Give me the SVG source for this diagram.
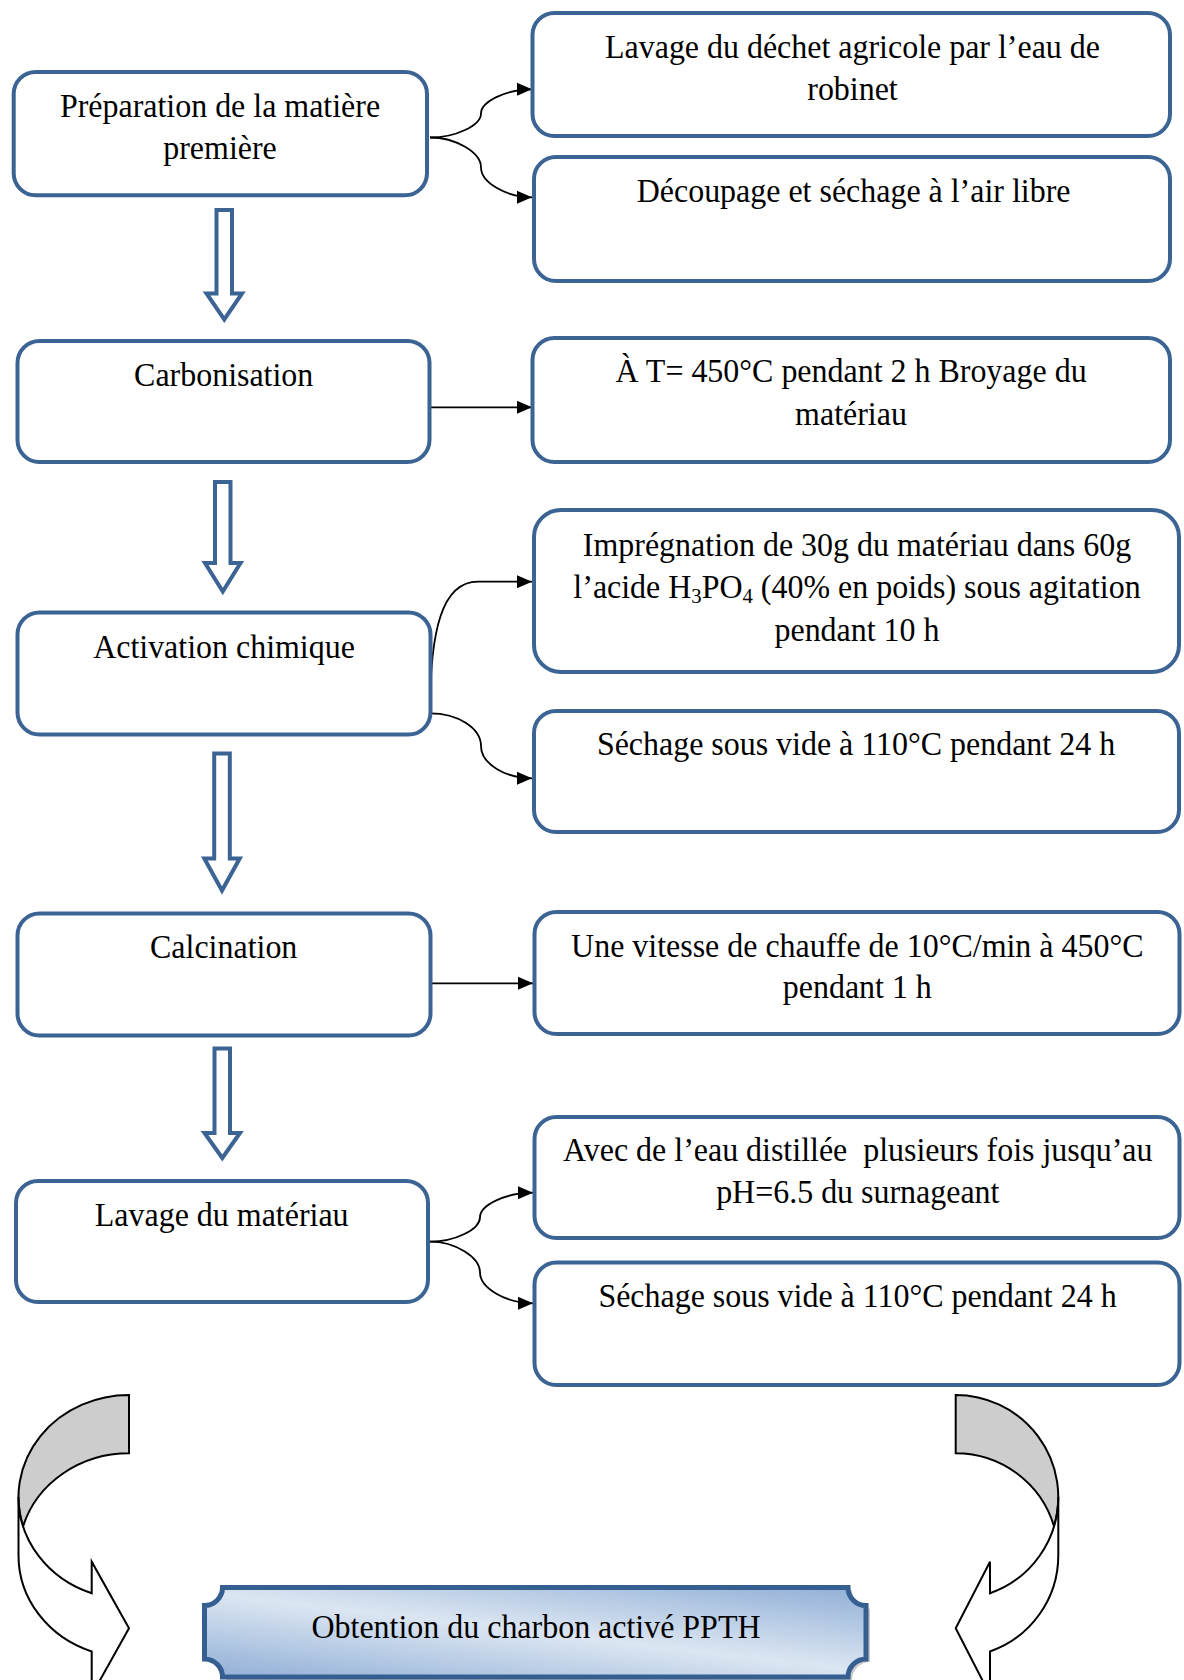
<svg xmlns="http://www.w3.org/2000/svg" width="1184" height="1680" viewBox="0 0 1184 1680">
<style>
.box{fill:#fff;stroke:#3B6494;stroke-width:4}
.conn{fill:none;stroke:#000;stroke-width:1.8}
.harrow{fill:#fff;stroke:#3B6494;stroke-width:4;stroke-linejoin:miter}
.t{font-family:"Liberation Serif","Times New Roman",serif;font-size:34px;text-anchor:middle;fill:#000}
.sub{font-size:22px}
.curv{stroke:#000;stroke-width:2;stroke-linejoin:miter}
</style>
<defs>
<marker id="ah" markerUnits="userSpaceOnUse" markerWidth="16" markerHeight="14" refX="15" refY="7" orient="auto" viewBox="0 0 16 14">
<path d="M0,0.5 L15,7 L0,13.5 Z" fill="#000"/>
</marker>
<linearGradient id="pg" gradientUnits="userSpaceOnUse" x1="523" y1="1716" x2="543" y2="1548">
<stop offset="0" stop-color="#8FAED6"/>
<stop offset="0.5" stop-color="#DCE6F2"/>
<stop offset="1" stop-color="#8FAED6"/>
</linearGradient>
</defs>
<rect width="1184" height="1680" fill="#fff"/>

<g id="connectors">
<path class="conn" marker-end="url(#ah)" d="M430 137.5 C455.5 137.5 481 125.4 481 113.4 C481 101.4 506.5 89.3 532 89.3"/>
<path class="conn" marker-end="url(#ah)" d="M430 137.5 C455.5 137.5 481 152.4 481 167.4 C481 182.4 506.5 197.3 532 197.3"/>
<path class="conn" marker-end="url(#ah)" d="M431 407.3 L532 407.3"/>
<path class="conn" marker-end="url(#ah)" d="M430 713.3 C430 630 442 581.7 478 581.7 L532 581.7"/>
<path class="conn" marker-end="url(#ah)" d="M430 713.3 C458 713.3 481 728 481 746 C481 764 506 778.3 532 778.3"/>
<path class="conn" marker-end="url(#ah)" d="M432 983.3 L533 983.3"/>
<path class="conn" marker-end="url(#ah)" d="M430 1241.7 C455 1241.7 480 1229.5 480 1217.2 C480 1205 506 1192.7 533 1192.7"/>
<path class="conn" marker-end="url(#ah)" d="M430 1241.7 C455 1241.7 480 1257 480 1272.5 C480 1288 506 1303.3 533 1303.3"/>
<path class="harrow" d="M216.5 210 L232 210 L232 293.5 L242 293.5 L224.3 319.5 L206.5 293.5 L216.5 293.5 Z"/>
<path class="harrow" d="M215 482 L230.5 482 L230.5 563 L240.5 563 L222.8 591.5 L205 563 L215 563 Z"/>
<path class="harrow" d="M214.2 753.5 L229.8 753.5 L229.8 858.5 L239.7 858.5 L222 890.5 L204.3 858.5 L214.2 858.5 Z"/>
<path class="harrow" d="M214.5 1048.5 L230 1048.5 L230 1133 L240 1133 L222.3 1158 L204.5 1133 L214.5 1133 Z"/>
</g>

<g id="n-preparation">
<rect class="box" x="13.7" y="72" width="413.3" height="123.3" rx="22"/>
<text class="t" transform="translate(220 117.3) scale(0.94 1)">Préparation de la matière</text>
<text class="t" transform="translate(220 159) scale(0.94 1)">première</text>
</g>
<g id="n-lavage-dechet">
<rect class="box" x="532.5" y="13" width="637.5" height="123" rx="22"/>
<text class="t" transform="translate(852.5 58.3) scale(0.94 1)">Lavage du déchet agricole par l’eau de</text>
<text class="t" transform="translate(852.5 100) scale(0.94 1)">robinet</text>
</g>
<g id="n-decoupage">
<rect class="box" x="534" y="157" width="636" height="124" rx="22"/>
<text class="t" transform="translate(853.6 201.7) scale(0.94 1)">Découpage et séchage à l’air libre</text>
</g>
<g id="n-carbonisation">
<rect class="box" x="17.5" y="341" width="412" height="121" rx="22"/>
<text class="t" transform="translate(223.7 385.7) scale(0.94 1)">Carbonisation</text>
</g>
<g id="n-temperature">
<rect class="box" x="532.5" y="338" width="637.5" height="124" rx="22"/>
<text class="t" transform="translate(851 381.7) scale(0.94 1)">À T= 450°C pendant 2 h Broyage du</text>
<text class="t" transform="translate(851 425) scale(0.94 1)">matériau</text>
</g>
<g id="n-impregnation">
<rect class="box" x="534" y="510" width="645" height="162" rx="27"/>
<text class="t" transform="translate(857 556) scale(0.94 1)">Imprégnation de 30g du matériau dans 60g</text>
<text class="t" transform="translate(857 598.3) scale(0.94 1)">l’acide H<tspan class="sub" dy="5">3</tspan><tspan dy="-5">PO</tspan><tspan class="sub" dy="5">4</tspan><tspan dy="-5"> (40% en poids) sous agitation</tspan></text>
<text class="t" transform="translate(857 640.7) scale(0.94 1)">pendant 10 h</text>
</g>
<g id="n-activation">
<rect class="box" x="17.5" y="612.5" width="413" height="122" rx="22"/>
<text class="t" transform="translate(224 657.7) scale(0.94 1)">Activation chimique</text>
</g>
<g id="n-sechage1">
<rect class="box" x="534" y="711" width="645" height="121" rx="22"/>
<text class="t" transform="translate(856 755) scale(0.94 1)">Séchage sous vide à 110°C pendant 24 h</text>
</g>
<g id="n-calcination">
<rect class="box" x="17.5" y="913.5" width="413" height="122" rx="22"/>
<text class="t" transform="translate(223.7 958.3) scale(0.94 1)">Calcination</text>
</g>
<g id="n-vitesse">
<rect class="box" x="534.5" y="912" width="645" height="122" rx="22"/>
<text class="t" transform="translate(857.3 956.7) scale(0.94 1)">Une vitesse de chauffe de 10°C/min à 450°C</text>
<text class="t" transform="translate(857.3 998.3) scale(0.94 1)">pendant 1 h</text>
</g>
<g id="n-lavage-materiau">
<rect class="box" x="16" y="1181" width="412" height="121" rx="22"/>
<text class="t" transform="translate(221.7 1225.7) scale(0.94 1)">Lavage du matériau</text>
</g>
<g id="n-eau-distillee">
<rect class="box" x="534.5" y="1117" width="645" height="121" rx="22"/>
<text class="t" xml:space="preserve" transform="translate(857.8 1160.7) scale(0.94 1)">Avec de l’eau distillée  plusieurs fois jusqu’au</text>
<text class="t" transform="translate(857.8 1202.7) scale(0.94 1)">pH=6.5 du surnageant</text>
</g>
<g id="n-sechage2">
<rect class="box" x="534.5" y="1262.5" width="645" height="122.5" rx="22"/>
<text class="t" transform="translate(857.5 1306.7) scale(0.94 1)">Séchage sous vide à 110°C pendant 24 h</text>
</g>

<g id="curved-arrow-left">
<path class="curv" fill="#CDCDCD" d="M129 1453.3 A110.5 102.1 0 0 0 23.1 1526.25 A110.5 102.1 0 0 1 129 1395 Z"/>
<path class="curv" fill="#fff" d="M18.5 1497.1 A110.5 102.1 0 0 0 91.7 1593.3 L91.7 1561.7 L129 1628.3 L91.7 1695 L91.7 1651.5 A110.5 102.1 0 0 1 18.5 1555.4 Z"/>
</g>
<g id="curved-arrow-right">
<path class="curv" fill="#CDCDCD" d="M955.7 1453.3 A102.6 102.1 0 0 1 1054 1526.25 A102.6 102.1 0 0 0 955.7 1395 Z"/>
<path class="curv" fill="#fff" d="M1058.3 1497.1 A102.6 102.1 0 0 1 990 1593.3 L990 1561.7 L955.7 1628.3 L990 1695 L990 1651.5 A102.6 102.1 0 0 0 1058.3 1555.4 Z"/>
</g>

<g id="n-obtention">
<path fill="#9A9A9A" opacity="0.55" transform="translate(4 3)" d="M222.5 1587.5 L848 1587.5 A18 18 0 0 0 866 1605.5 L866 1659 A18 18 0 0 0 848 1677 L222.5 1677 A18 18 0 0 0 204.5 1659 L204.5 1605.5 A18 18 0 0 0 222.5 1587.5 Z"/>
<path fill="url(#pg)" stroke="#365F91" stroke-width="5" d="M222.5 1587.5 L848 1587.5 A18 18 0 0 0 866 1605.5 L866 1659 A18 18 0 0 0 848 1677 L222.5 1677 A18 18 0 0 0 204.5 1659 L204.5 1605.5 A18 18 0 0 0 222.5 1587.5 Z"/>
<text class="t" transform="translate(536 1638) scale(0.94 1)">Obtention du charbon activé PPTH</text>
</g>
</svg>
